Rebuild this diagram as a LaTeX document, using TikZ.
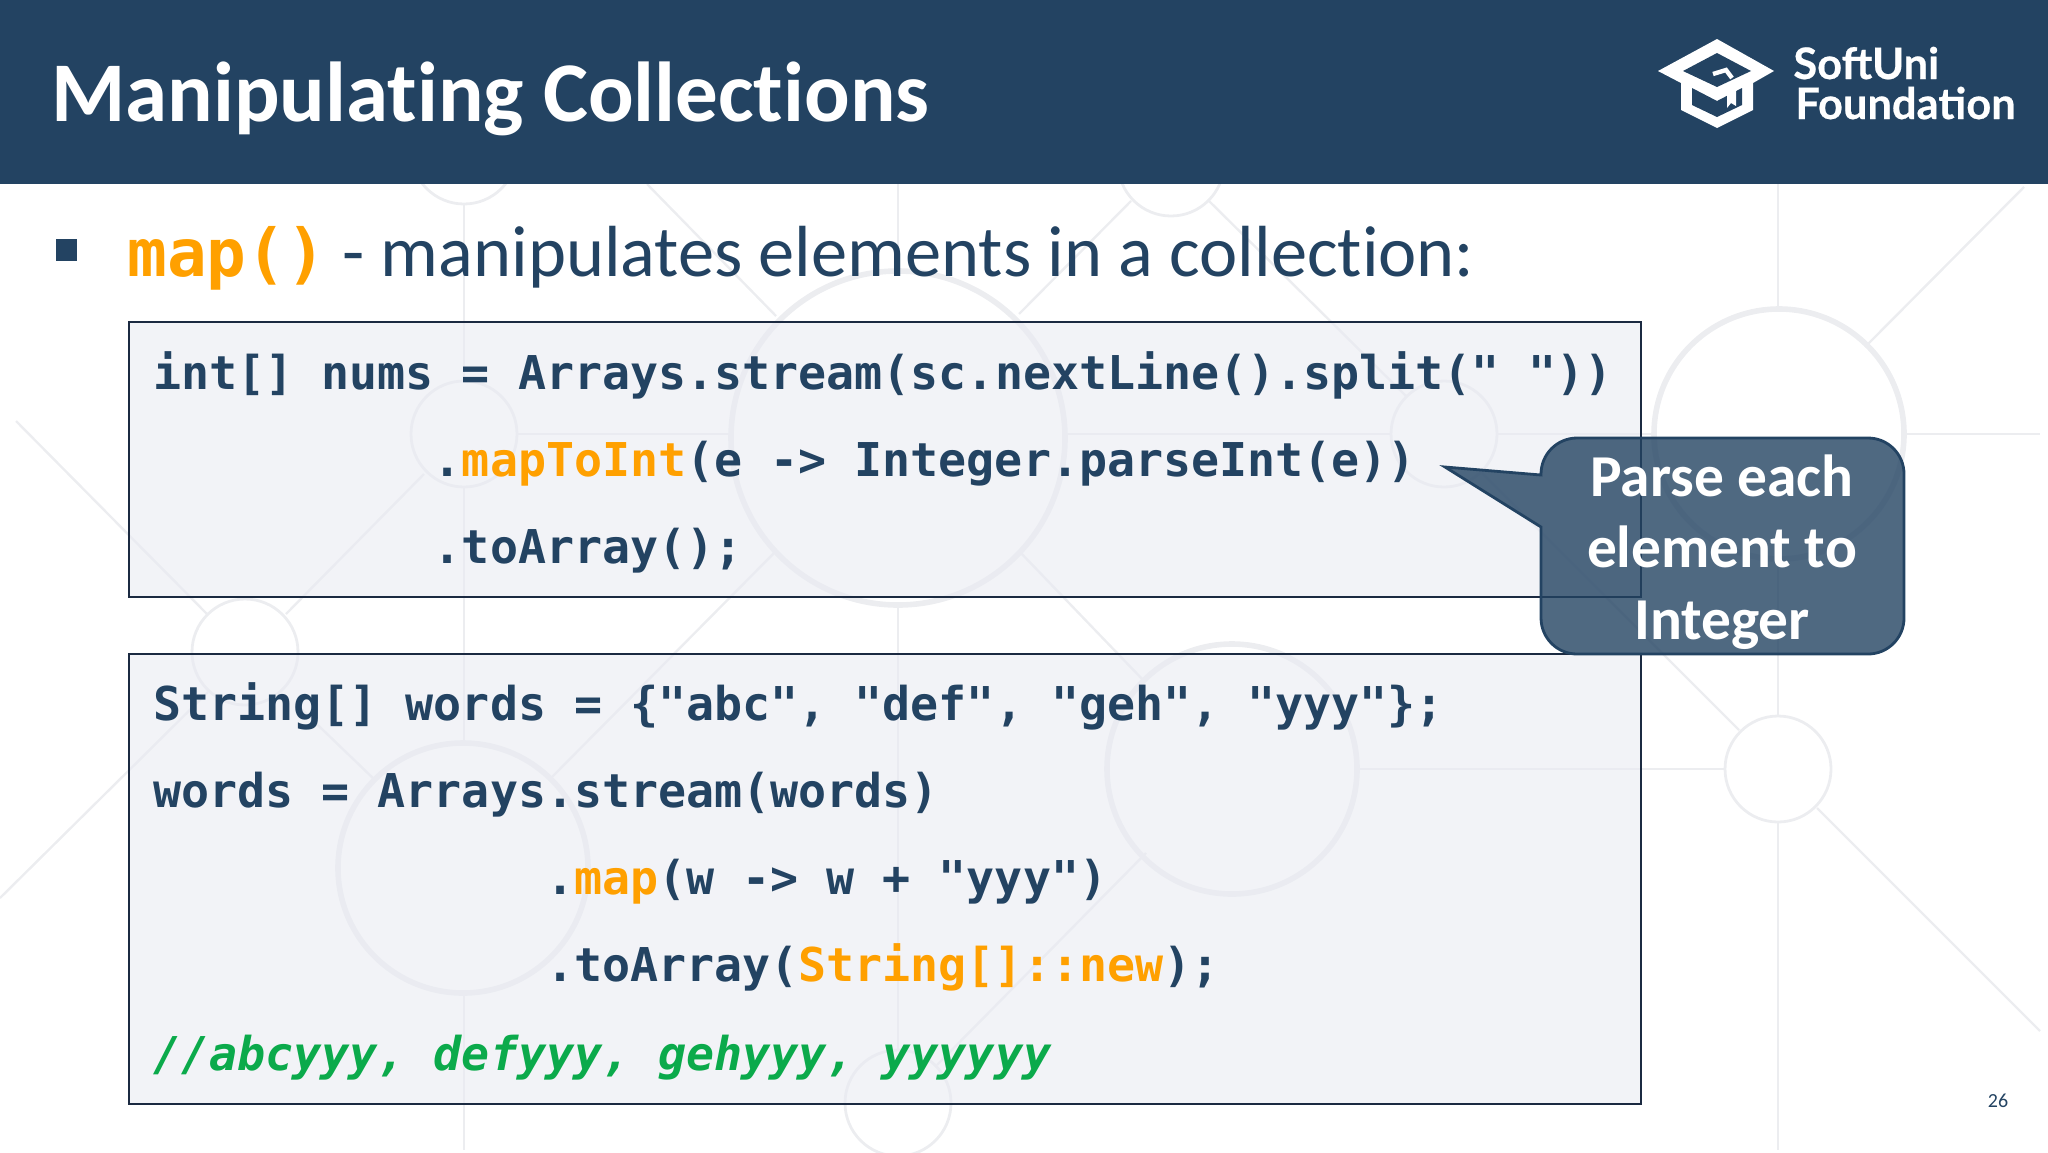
\documentclass[tikz,border=0pt]{standalone}
\usepackage{fontspec}
\setmainfont[Ligatures=NoCommon]{Carlito}
\newfontfamily\codefont{DejaVu Sans Mono}
\newfontfamily\logofont[BoldFeatures={FakeBold=0.5}]{Lato}
\definecolor{navy}{HTML}{234362}
\definecolor{accent}{HTML}{FFA000}
\definecolor{commentgreen}{HTML}{0BAA4B}
\definecolor{codebg}{HTML}{E9EBF2}
\definecolor{boxline}{HTML}{1B2A41}
\definecolor{faint}{HTML}{ECEDF0}
\def\codeX{153}
\def\charW{28.05}
\tikzstyle{bgline}=[draw=faint,line width=1.2pt]
\tikzstyle{bgring}=[draw=faint]
\tikzstyle{codebox}=[draw=boxline,line width=1.2pt,fill=codebg,fill opacity=0.6]
\tikzstyle{code}=[anchor=base west,inner sep=0pt,text=navy,font=\fontsize{23.3}{26}\codefont\bfseries\frenchspacing]
\tikzstyle{comment}=[code,text=commentgreen,font=\fontsize{23.3}{26}\codefont\bfseries\itshape\frenchspacing]
\tikzstyle{calloutbody}=[draw=navy,line width=1.4pt,fill=navy,fill opacity=0.8]
\tikzstyle{calloutline}=[anchor=base,inner sep=0pt,text=white,font=\fontsize{29.7}{30}\selectfont\bfseries]
\tikzstyle{logoline}=[anchor=base west,inner sep=0pt,text=white,font=\fontsize{21.7}{24}\logofont\bfseries]
\newcommand{\accentcode}[1]{\textcolor{accent}{#1}}

\begin{document}
\begin{tikzpicture}[x=0.5pt,y=-0.5pt]
    \useasboundingbox (0,0) rectangle (2048,1152);

    % background pattern
    \foreach \ringX/\ringY/\ringR/\ringW in {464/151/53/1.4,1171/163/53/1.4,464/434/53/1.4,1444/434/53/1.4,
        245/652/53/1.4,1778/769/53/1.4,898/1103/53/1.4,898/438/167/2.8,1779/434/125/2.8,
        1232/769/125/2.8,463/868/125/2.8}
        \draw[bgring,line width=\ringW pt] (\ringX,\ringY) circle (\ringR);
    \foreach \fromX/\fromY/\toX/\toY in {464/204/464/381,464/487/464/743,464/993/464/1150,
        898/184/898/271,898/607/898/1050,1778/184/1778/309,1778/559/1778/716,1778/822/1778/1150,
        517/434/731/434,1065/434/1391/434,1497/434/1654/434,1904/434/2040/434,1357/769/1725/769,
        647/184/776/316,1019/314/1131/201,1209/201/1406/396,2024/187/1865/347,16/421/207/614,
        424/474/286/614,297/705/375/780,208/692/0/898,776/551/551/778,1019/551/1144/681,
        1146/853/937/1065,1482/473/1739/730,1817/808/2040/1031}
        \draw[bgline] (\fromX,\fromY) -- (\toX,\toY);

    % header
    \fill[navy] (0,0) rectangle (2048,184);
    \node[anchor=base west,inner sep=0pt,text=white,font=\fontsize{42.5}{44}\selectfont\bfseries] (title) at (51,121) {Manipulating Collections};

    % logo
    \fill[white] (1717,39) -- (1774,71) -- (1753,83) -- (1753,110) -- (1717,128) -- (1681,110) -- (1681,83) -- (1658,71) -- cycle;
    \fill[navy] (1717,53) -- (1751,71) -- (1717,87) -- (1683,71) -- cycle;
    \fill[navy] (1692,88) -- (1717,101) -- (1742,88) -- (1742,105) -- (1717,117) -- (1692,105) -- cycle;
    \draw[white,line width=2.2pt] (1713,74) -- (1726,70) -- (1732,78);
    \fill[white] (1727,94) -- (1736,89) -- (1736,106) -- (1731,103) -- (1727,108) -- cycle;
    \node[logoline] (logoTop) at (1793,79) {SoftUni};
    \node[logoline] (logoBottom) at (1795,119) {Foundation};

    % heading line
    \fill[navy] (56,239) rectangle (77,261);
    \node[anchor=base west,inner sep=0pt,text=accent,font=\fontsize{33}{36}\codefont\bfseries] (mapName) at (127,276) {map()};
    \node[anchor=base west,inner sep=0pt,text=navy,font=\fontsize{36.2}{38}\selectfont] (mapText) at (342,276) {- manipulates elements in a collection:};

    % first code box
    \draw[codebox] (129,322) rectangle (1641,597);
    \node[code] (numsA) at (\codeX,389) {int[] nums = Arrays.stream(sc.nextLine().split(" "))};
    \node[code] (numsB) at (\codeX+10*\charW,476) {.\accentcode{mapToInt}(e -> Integer.parseInt(e))};
    \node[code] (numsC) at (\codeX+10*\charW,563) {.toArray();};

    % second code box
    \draw[codebox] (129,654) rectangle (1641,1104);
    \node[code] (wordsA) at (\codeX,720) {String[] words = \{"abc", "def", "geh", "yyy"\};};
    \node[code] (wordsB) at (\codeX,807) {words = Arrays.stream(words)};
    \node[code] (wordsC) at (\codeX+14*\charW,894) {.\accentcode{map}(w -> w + "yyy")};
    \node[code] (wordsD) at (\codeX+14*\charW,981) {.toArray(\accentcode{String[]::new});};
    \node[comment] (wordsE) at (\codeX,1070) {//abcyyy, defyyy, gehyyy, yyyyyy};

    % callout
    \draw[calloutbody] (1700,438) [rounded corners=18pt] -- (1541,438) [sharp corners] -- (1541,475) -- (1445,467) -- (1541,527) [rounded corners=18pt] -- (1541,654) -- (1904,654) -- (1904,438) -- cycle;
    \node[calloutline] (parseA) at (1722,496) {Parse each};
    \node[calloutline] (parseB) at (1722,567) {element to};
    \node[calloutline] (parseC) at (1722,639) {Integer};

    \node[anchor=center,inner sep=0pt,text=navy,font=\fontsize{10}{12}\selectfont] (pageNo) at (1998,1101) {26};
\end{tikzpicture}
\end{document}
